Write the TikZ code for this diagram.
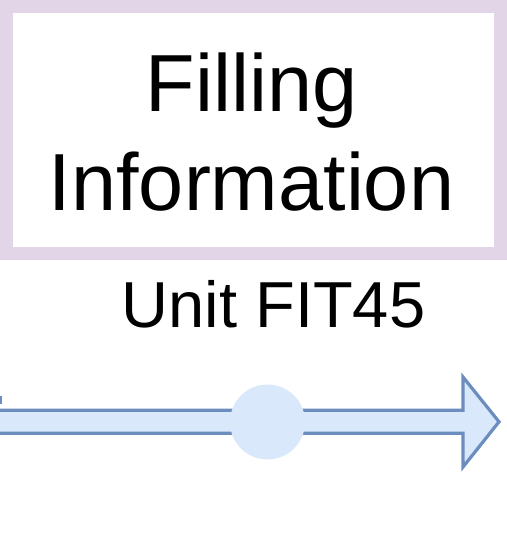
\documentclass[tikz,border=0pt]{standalone}
\usepackage{fontspec}
\setmainfont{Liberation Sans}
\definecolor{boxpurple}{HTML}{E1D5E7}
\definecolor{arrfill}{HTML}{DAE8FC}
\definecolor{arrline}{HTML}{6C8EBF}
\begin{document}
\begin{tikzpicture}[x=1pt,y=-1pt,
  lbl/.style={inner sep=0pt, anchor=base, text=black},
  flow/.style={draw=arrline, fill=arrfill, line width=3.2pt, line join=miter}]
\useasboundingbox (0,0) rectangle (506,553);
\fill[white] (0,0) rectangle (506,553);
% title box
\node[draw=boxpurple, line width=13pt, fill=white, minimum width=493.5pt, minimum height=246.5pt, inner sep=0pt, outer sep=0pt, anchor=north west] (box) at (6.5,6.5) {};
\node[lbl, font=\fontsize{81}{99}\selectfont] (t1) at (251.5,112) {Filling};
\node[lbl, font=\fontsize{81}{99}\selectfont] (t2) at (251.5,211) {Information};
\node[lbl, font=\fontsize{65}{80}\selectfont] (unit) at (273.5,327) {Unit FIT45};
% cut-off piece at left edge
\draw[draw=arrline, fill=arrfill, line width=2.5pt] (-6,397.5) rectangle (1.2,403);
% big arrow
\draw[flow] (-10,410.3) -- (463,410.3) -- (463,377) -- (499,421.8) -- (463,467) -- (463,433.2) -- (-10,433.2) -- cycle;
% dot
\node[circle, fill=arrfill, minimum size=75pt, inner sep=0pt] (dot) at (267.5,422) {};
\end{tikzpicture}
\end{document}
